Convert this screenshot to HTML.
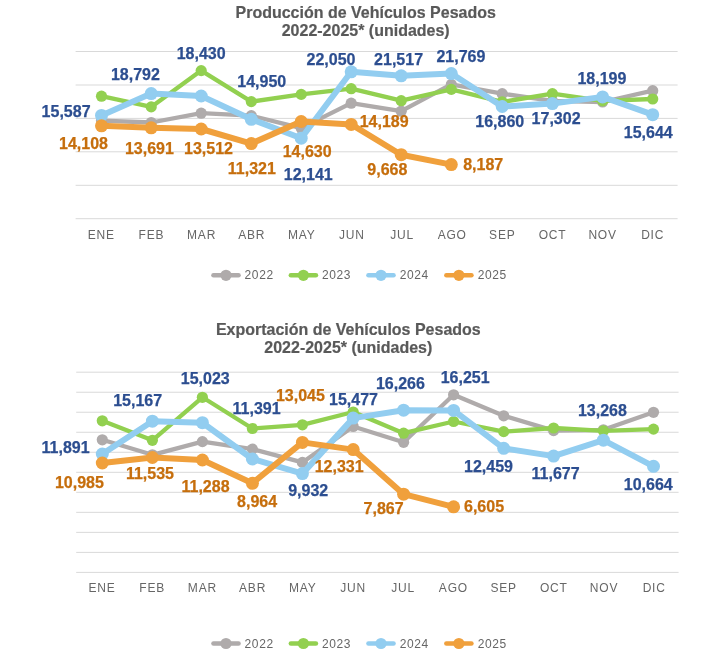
<!DOCTYPE html>
<html lang="es">
<head>
<meta charset="utf-8">
<title>Vehículos Pesados 2022-2025</title>
<style>
html,body{margin:0;padding:0;background:#fff;}
body{width:711px;height:657px;overflow:hidden;}
svg{display:block;font-family:"Liberation Sans", Arial, sans-serif;}
</style>
</head>
<body>
<svg width="711" height="657" viewBox="0 0 711 657">
<rect width="711" height="657" fill="#ffffff"/>
<g id="chart-produccion">
<line x1="75.6" y1="51.5" x2="677.6" y2="51.5" stroke="#D9D9D9" stroke-width="1"/>
<line x1="75.6" y1="85.0" x2="677.6" y2="85.0" stroke="#D9D9D9" stroke-width="1"/>
<line x1="75.6" y1="118.4" x2="677.6" y2="118.4" stroke="#D9D9D9" stroke-width="1"/>
<line x1="75.6" y1="151.8" x2="677.6" y2="151.8" stroke="#D9D9D9" stroke-width="1"/>
<line x1="75.6" y1="185.3" x2="677.6" y2="185.3" stroke="#D9D9D9" stroke-width="1"/>
<line x1="75.6" y1="218.7" x2="677.6" y2="218.7" stroke="#D9D9D9" stroke-width="1"/>
<polyline points="101.5,120.7 151.2,122.5 201.2,113.2 251.3,115.7 301.2,128.2 351.2,103.2 401.2,111.2 451.3,84.4 502.2,93.7 552.4,100.9 602.6,102.0 652.7,90.7" fill="none" stroke="#AFABAB" stroke-width="4.3" stroke-linejoin="round" stroke-linecap="round"/>
<circle cx="101.5" cy="120.7" r="5.6" fill="#AFABAB"/>
<circle cx="151.2" cy="122.5" r="5.6" fill="#AFABAB"/>
<circle cx="201.2" cy="113.2" r="5.6" fill="#AFABAB"/>
<circle cx="251.3" cy="115.7" r="5.6" fill="#AFABAB"/>
<circle cx="301.2" cy="128.2" r="5.6" fill="#AFABAB"/>
<circle cx="351.2" cy="103.2" r="5.6" fill="#AFABAB"/>
<circle cx="401.2" cy="111.2" r="5.6" fill="#AFABAB"/>
<circle cx="451.3" cy="84.4" r="5.6" fill="#AFABAB"/>
<circle cx="502.2" cy="93.7" r="5.6" fill="#AFABAB"/>
<circle cx="552.4" cy="100.9" r="5.6" fill="#AFABAB"/>
<circle cx="602.6" cy="102.0" r="5.6" fill="#AFABAB"/>
<circle cx="652.7" cy="90.7" r="5.6" fill="#AFABAB"/>
<polyline points="101.5,96.2 151.2,106.9 201.2,70.6 251.3,101.6 301.2,94.4 351.2,88.7 401.2,100.7 451.3,89.4 502.2,101.9 552.4,93.7 602.6,100.9 652.7,99.0" fill="none" stroke="#92D050" stroke-width="4.3" stroke-linejoin="round" stroke-linecap="round"/>
<circle cx="101.5" cy="96.2" r="5.6" fill="#92D050"/>
<circle cx="151.2" cy="106.9" r="5.6" fill="#92D050"/>
<circle cx="201.2" cy="70.6" r="5.6" fill="#92D050"/>
<circle cx="251.3" cy="101.6" r="5.6" fill="#92D050"/>
<circle cx="301.2" cy="94.4" r="5.6" fill="#92D050"/>
<circle cx="351.2" cy="88.7" r="5.6" fill="#92D050"/>
<circle cx="401.2" cy="100.7" r="5.6" fill="#92D050"/>
<circle cx="451.3" cy="89.4" r="5.6" fill="#92D050"/>
<circle cx="502.2" cy="101.9" r="5.6" fill="#92D050"/>
<circle cx="552.4" cy="93.7" r="5.6" fill="#92D050"/>
<circle cx="602.6" cy="100.9" r="5.6" fill="#92D050"/>
<circle cx="652.7" cy="99.0" r="5.6" fill="#92D050"/>
<polyline points="101.5,115.4 151.2,93.6 201.2,96.0 251.3,119.3 301.2,138.2 351.2,71.8 401.2,75.8 451.3,73.6 502.2,106.5 552.4,103.6 602.6,96.9 652.7,114.7" fill="none" stroke="#92CDF0" stroke-width="6" stroke-linejoin="round" stroke-linecap="round"/>
<circle cx="101.5" cy="115.4" r="6.5" fill="#92CDF0"/>
<circle cx="151.2" cy="93.6" r="6.5" fill="#92CDF0"/>
<circle cx="201.2" cy="96.0" r="6.5" fill="#92CDF0"/>
<circle cx="251.3" cy="119.3" r="6.5" fill="#92CDF0"/>
<circle cx="301.2" cy="138.2" r="6.5" fill="#92CDF0"/>
<circle cx="351.2" cy="71.8" r="6.5" fill="#92CDF0"/>
<circle cx="401.2" cy="75.8" r="6.5" fill="#92CDF0"/>
<circle cx="451.3" cy="73.6" r="6.5" fill="#92CDF0"/>
<circle cx="502.2" cy="106.5" r="6.5" fill="#92CDF0"/>
<circle cx="552.4" cy="103.6" r="6.5" fill="#92CDF0"/>
<circle cx="602.6" cy="96.9" r="6.5" fill="#92CDF0"/>
<circle cx="652.7" cy="114.7" r="6.5" fill="#92CDF0"/>
<polyline points="101.5,125.8 151.2,127.8 201.2,129.0 251.3,143.6 301.2,121.5 351.2,124.4 401.2,154.7 451.3,164.6" fill="none" stroke="#F0A03C" stroke-width="6" stroke-linejoin="round" stroke-linecap="round"/>
<circle cx="101.5" cy="125.8" r="6.5" fill="#F0A03C"/>
<circle cx="151.2" cy="127.8" r="6.5" fill="#F0A03C"/>
<circle cx="201.2" cy="129.0" r="6.5" fill="#F0A03C"/>
<circle cx="251.3" cy="143.6" r="6.5" fill="#F0A03C"/>
<circle cx="301.2" cy="121.5" r="6.5" fill="#F0A03C"/>
<circle cx="351.2" cy="124.4" r="6.5" fill="#F0A03C"/>
<circle cx="401.2" cy="154.7" r="6.5" fill="#F0A03C"/>
<circle cx="451.3" cy="164.6" r="6.5" fill="#F0A03C"/>
<text transform="translate(41.6,116.5) scale(1,1.0)" fill="#2C4E90" stroke="#2C4E90" stroke-width="0.25" font-size="16" font-weight="bold">15,587</text>
<text transform="translate(110.9,80.2) scale(1,1.0)" fill="#2C4E90" stroke="#2C4E90" stroke-width="0.25" font-size="16" font-weight="bold">18,792</text>
<text transform="translate(176.7,59.0) scale(1,1.0)" fill="#2C4E90" stroke="#2C4E90" stroke-width="0.25" font-size="16" font-weight="bold">18,430</text>
<text transform="translate(237.3,87.0) scale(1,1.0)" fill="#2C4E90" stroke="#2C4E90" stroke-width="0.25" font-size="16" font-weight="bold">14,950</text>
<text transform="translate(306.5,65.0) scale(1,1.0)" fill="#2C4E90" stroke="#2C4E90" stroke-width="0.25" font-size="16" font-weight="bold">22,050</text>
<text transform="translate(374.1,64.9) scale(1,1.0)" fill="#2C4E90" stroke="#2C4E90" stroke-width="0.25" font-size="16" font-weight="bold">21,517</text>
<text transform="translate(436.4,61.8) scale(1,1.0)" fill="#2C4E90" stroke="#2C4E90" stroke-width="0.25" font-size="16" font-weight="bold">21,769</text>
<text transform="translate(475.3,126.9) scale(1,1.0)" fill="#2C4E90" stroke="#2C4E90" stroke-width="0.25" font-size="16" font-weight="bold">16,860</text>
<text transform="translate(531.6,124.4) scale(1,1.0)" fill="#2C4E90" stroke="#2C4E90" stroke-width="0.25" font-size="16" font-weight="bold">17,302</text>
<text transform="translate(577.4,84.1) scale(1,1.0)" fill="#2C4E90" stroke="#2C4E90" stroke-width="0.25" font-size="16" font-weight="bold">18,199</text>
<text transform="translate(623.8,137.9) scale(1,1.0)" fill="#2C4E90" stroke="#2C4E90" stroke-width="0.25" font-size="16" font-weight="bold">15,644</text>
<text transform="translate(283.8,179.8) scale(1,1.0)" fill="#2C4E90" stroke="#2C4E90" stroke-width="0.25" font-size="16" font-weight="bold">12,141</text>
<text transform="translate(59.0,148.8) scale(1,1.0)" fill="#C66E0C" stroke="#C66E0C" stroke-width="0.25" font-size="16" font-weight="bold">14,108</text>
<text transform="translate(124.9,154.4) scale(1,1.0)" fill="#C66E0C" stroke="#C66E0C" stroke-width="0.25" font-size="16" font-weight="bold">13,691</text>
<text transform="translate(184.0,154.4) scale(1,1.0)" fill="#C66E0C" stroke="#C66E0C" stroke-width="0.25" font-size="16" font-weight="bold">13,512</text>
<text transform="translate(227.8,174.1) scale(1,1.0)" fill="#C66E0C" stroke="#C66E0C" stroke-width="0.25" font-size="16" font-weight="bold">11,321</text>
<text transform="translate(282.7,156.8) scale(1,1.0)" fill="#C66E0C" stroke="#C66E0C" stroke-width="0.25" font-size="16" font-weight="bold">14,630</text>
<text transform="translate(359.7,127.1) scale(1,1.0)" fill="#C66E0C" stroke="#C66E0C" stroke-width="0.25" font-size="16" font-weight="bold">14,189</text>
<text transform="translate(367.3,175.4) scale(1,1.0)" fill="#C66E0C" stroke="#C66E0C" stroke-width="0.25" font-size="16" font-weight="bold">9,668</text>
<text transform="translate(463.2,169.9) scale(1,1.0)" fill="#C66E0C" stroke="#C66E0C" stroke-width="0.25" font-size="16" font-weight="bold">8,187</text>
<text x="101.3" y="238.9" fill="#666666" font-size="12" letter-spacing="0.8" text-anchor="middle">ENE</text>
<text x="151.4" y="238.9" fill="#666666" font-size="12" letter-spacing="0.8" text-anchor="middle">FEB</text>
<text x="201.6" y="238.9" fill="#666666" font-size="12" letter-spacing="0.8" text-anchor="middle">MAR</text>
<text x="251.7" y="238.9" fill="#666666" font-size="12" letter-spacing="0.8" text-anchor="middle">ABR</text>
<text x="301.8" y="238.9" fill="#666666" font-size="12" letter-spacing="0.8" text-anchor="middle">MAY</text>
<text x="351.9" y="238.9" fill="#666666" font-size="12" letter-spacing="0.8" text-anchor="middle">JUN</text>
<text x="402.1" y="238.9" fill="#666666" font-size="12" letter-spacing="0.8" text-anchor="middle">JUL</text>
<text x="452.2" y="238.9" fill="#666666" font-size="12" letter-spacing="0.8" text-anchor="middle">AGO</text>
<text x="502.3" y="238.9" fill="#666666" font-size="12" letter-spacing="0.8" text-anchor="middle">SEP</text>
<text x="552.5" y="238.9" fill="#666666" font-size="12" letter-spacing="0.8" text-anchor="middle">OCT</text>
<text x="602.6" y="238.9" fill="#666666" font-size="12" letter-spacing="0.8" text-anchor="middle">NOV</text>
<text x="652.7" y="238.9" fill="#666666" font-size="12" letter-spacing="0.8" text-anchor="middle">DIC</text>
<text transform="translate(365.7,17.5) scale(1,1.04)" fill="#595959" stroke="#595959" stroke-width="0.2" font-size="16" font-weight="bold" text-anchor="middle">Producción de Vehículos Pesados</text>
<text transform="translate(365.7,35.8) scale(1,1.04)" fill="#595959" stroke="#595959" stroke-width="0.2" font-size="16" font-weight="bold" text-anchor="middle">2022-2025* (unidades)</text>
<line x1="213.5" y1="275.3" x2="238.5" y2="275.3" stroke="#AFABAB" stroke-width="4.6" stroke-linecap="round"/>
<circle cx="226" cy="275.3" r="5.6" fill="#AFABAB"/>
<text x="244.6" y="279.3" fill="#666666" font-size="12" letter-spacing="0.6">2022</text>
<line x1="290.9" y1="275.3" x2="315.9" y2="275.3" stroke="#92D050" stroke-width="4.6" stroke-linecap="round"/>
<circle cx="303.4" cy="275.3" r="5.6" fill="#92D050"/>
<text x="322" y="279.3" fill="#666666" font-size="12" letter-spacing="0.6">2023</text>
<line x1="368.5" y1="275.3" x2="393.5" y2="275.3" stroke="#92CDF0" stroke-width="4.6" stroke-linecap="round"/>
<circle cx="381" cy="275.3" r="5.6" fill="#92CDF0"/>
<text x="399.8" y="279.3" fill="#666666" font-size="12" letter-spacing="0.6">2024</text>
<line x1="446.4" y1="275.3" x2="471.4" y2="275.3" stroke="#F0A03C" stroke-width="4.6" stroke-linecap="round"/>
<circle cx="458.9" cy="275.3" r="5.6" fill="#F0A03C"/>
<text x="477.7" y="279.3" fill="#666666" font-size="12" letter-spacing="0.6">2025</text>
</g>
<g id="chart-exportacion">
<line x1="76.2" y1="372.2" x2="678.6" y2="372.2" stroke="#D9D9D9" stroke-width="1"/>
<line x1="76.2" y1="392.21999999999997" x2="678.6" y2="392.21999999999997" stroke="#D9D9D9" stroke-width="1"/>
<line x1="76.2" y1="412.24" x2="678.6" y2="412.24" stroke="#D9D9D9" stroke-width="1"/>
<line x1="76.2" y1="432.26" x2="678.6" y2="432.26" stroke="#D9D9D9" stroke-width="1"/>
<line x1="76.2" y1="452.28" x2="678.6" y2="452.28" stroke="#D9D9D9" stroke-width="1"/>
<line x1="76.2" y1="472.29999999999995" x2="678.6" y2="472.29999999999995" stroke="#D9D9D9" stroke-width="1"/>
<line x1="76.2" y1="492.32" x2="678.6" y2="492.32" stroke="#D9D9D9" stroke-width="1"/>
<line x1="76.2" y1="512.3399999999999" x2="678.6" y2="512.3399999999999" stroke="#D9D9D9" stroke-width="1"/>
<line x1="76.2" y1="532.36" x2="678.6" y2="532.36" stroke="#D9D9D9" stroke-width="1"/>
<line x1="76.2" y1="552.38" x2="678.6" y2="552.38" stroke="#D9D9D9" stroke-width="1"/>
<line x1="76.2" y1="572.4" x2="678.6" y2="572.4" stroke="#D9D9D9" stroke-width="1"/>
<polyline points="102.3,439.8 152.4,454.8 202.4,441.6 252.4,449.1 302.4,462.4 353.2,426.5 403.6,442.3 453.6,394.8 503.7,415.8 553.6,430.6 603.4,429.8 653.5,412.3" fill="none" stroke="#AFABAB" stroke-width="4.3" stroke-linejoin="round" stroke-linecap="round"/>
<circle cx="102.3" cy="439.8" r="5.6" fill="#AFABAB"/>
<circle cx="152.4" cy="454.8" r="5.6" fill="#AFABAB"/>
<circle cx="202.4" cy="441.6" r="5.6" fill="#AFABAB"/>
<circle cx="252.4" cy="449.1" r="5.6" fill="#AFABAB"/>
<circle cx="302.4" cy="462.4" r="5.6" fill="#AFABAB"/>
<circle cx="353.2" cy="426.5" r="5.6" fill="#AFABAB"/>
<circle cx="403.6" cy="442.3" r="5.6" fill="#AFABAB"/>
<circle cx="453.6" cy="394.8" r="5.6" fill="#AFABAB"/>
<circle cx="503.7" cy="415.8" r="5.6" fill="#AFABAB"/>
<circle cx="553.6" cy="430.6" r="5.6" fill="#AFABAB"/>
<circle cx="603.4" cy="429.8" r="5.6" fill="#AFABAB"/>
<circle cx="653.5" cy="412.3" r="5.6" fill="#AFABAB"/>
<polyline points="102.3,420.8 152.4,440.3 202.4,397.3 252.4,428.5 302.4,424.8 353.2,412.0 403.6,433.2 453.6,421.5 503.7,431.6 553.6,428.0 603.4,430.8 653.5,429.1" fill="none" stroke="#92D050" stroke-width="4.3" stroke-linejoin="round" stroke-linecap="round"/>
<circle cx="102.3" cy="420.8" r="5.6" fill="#92D050"/>
<circle cx="152.4" cy="440.3" r="5.6" fill="#92D050"/>
<circle cx="202.4" cy="397.3" r="5.6" fill="#92D050"/>
<circle cx="252.4" cy="428.5" r="5.6" fill="#92D050"/>
<circle cx="302.4" cy="424.8" r="5.6" fill="#92D050"/>
<circle cx="353.2" cy="412.0" r="5.6" fill="#92D050"/>
<circle cx="403.6" cy="433.2" r="5.6" fill="#92D050"/>
<circle cx="453.6" cy="421.5" r="5.6" fill="#92D050"/>
<circle cx="503.7" cy="431.6" r="5.6" fill="#92D050"/>
<circle cx="553.6" cy="428.0" r="5.6" fill="#92D050"/>
<circle cx="603.4" cy="430.8" r="5.6" fill="#92D050"/>
<circle cx="653.5" cy="429.1" r="5.6" fill="#92D050"/>
<polyline points="102.3,454.0 152.4,421.2 202.4,422.7 252.4,459.0 302.4,473.6 353.2,418.1 403.6,410.2 453.6,410.4 503.7,448.3 553.6,456.1 603.4,440.2 653.5,466.3" fill="none" stroke="#92CDF0" stroke-width="6" stroke-linejoin="round" stroke-linecap="round"/>
<circle cx="102.3" cy="454.0" r="6.5" fill="#92CDF0"/>
<circle cx="152.4" cy="421.2" r="6.5" fill="#92CDF0"/>
<circle cx="202.4" cy="422.7" r="6.5" fill="#92CDF0"/>
<circle cx="252.4" cy="459.0" r="6.5" fill="#92CDF0"/>
<circle cx="302.4" cy="473.6" r="6.5" fill="#92CDF0"/>
<circle cx="353.2" cy="418.1" r="6.5" fill="#92CDF0"/>
<circle cx="403.6" cy="410.2" r="6.5" fill="#92CDF0"/>
<circle cx="453.6" cy="410.4" r="6.5" fill="#92CDF0"/>
<circle cx="503.7" cy="448.3" r="6.5" fill="#92CDF0"/>
<circle cx="553.6" cy="456.1" r="6.5" fill="#92CDF0"/>
<circle cx="603.4" cy="440.2" r="6.5" fill="#92CDF0"/>
<circle cx="653.5" cy="466.3" r="6.5" fill="#92CDF0"/>
<polyline points="102.3,463.0 152.4,457.5 202.4,460.0 252.4,483.3 302.4,442.4 353.2,449.6 403.6,494.2 453.6,506.8" fill="none" stroke="#F0A03C" stroke-width="6" stroke-linejoin="round" stroke-linecap="round"/>
<circle cx="102.3" cy="463.0" r="6.5" fill="#F0A03C"/>
<circle cx="152.4" cy="457.5" r="6.5" fill="#F0A03C"/>
<circle cx="202.4" cy="460.0" r="6.5" fill="#F0A03C"/>
<circle cx="252.4" cy="483.3" r="6.5" fill="#F0A03C"/>
<circle cx="302.4" cy="442.4" r="6.5" fill="#F0A03C"/>
<circle cx="353.2" cy="449.6" r="6.5" fill="#F0A03C"/>
<circle cx="403.6" cy="494.2" r="6.5" fill="#F0A03C"/>
<circle cx="453.6" cy="506.8" r="6.5" fill="#F0A03C"/>
<text transform="translate(41.6,453.0) scale(1,1.0)" fill="#2C4E90" stroke="#2C4E90" stroke-width="0.25" font-size="16" font-weight="bold">11,891</text>
<text transform="translate(113.2,405.9) scale(1,1.0)" fill="#2C4E90" stroke="#2C4E90" stroke-width="0.25" font-size="16" font-weight="bold">15,167</text>
<text transform="translate(180.8,384.1) scale(1,1.0)" fill="#2C4E90" stroke="#2C4E90" stroke-width="0.25" font-size="16" font-weight="bold">15,023</text>
<text transform="translate(232.6,414.1) scale(1,1.0)" fill="#2C4E90" stroke="#2C4E90" stroke-width="0.25" font-size="16" font-weight="bold">11,391</text>
<text transform="translate(329.0,405.4) scale(1,1.0)" fill="#2C4E90" stroke="#2C4E90" stroke-width="0.25" font-size="16" font-weight="bold">15,477</text>
<text transform="translate(375.9,388.6) scale(1,1.0)" fill="#2C4E90" stroke="#2C4E90" stroke-width="0.25" font-size="16" font-weight="bold">16,266</text>
<text transform="translate(440.7,382.8) scale(1,1.0)" fill="#2C4E90" stroke="#2C4E90" stroke-width="0.25" font-size="16" font-weight="bold">16,251</text>
<text transform="translate(464.0,471.7) scale(1,1.0)" fill="#2C4E90" stroke="#2C4E90" stroke-width="0.25" font-size="16" font-weight="bold">12,459</text>
<text transform="translate(531.6,479.2) scale(1,1.0)" fill="#2C4E90" stroke="#2C4E90" stroke-width="0.25" font-size="16" font-weight="bold">11,677</text>
<text transform="translate(577.9,416.0) scale(1,1.0)" fill="#2C4E90" stroke="#2C4E90" stroke-width="0.25" font-size="16" font-weight="bold">13,268</text>
<text transform="translate(623.8,489.7) scale(1,1.0)" fill="#2C4E90" stroke="#2C4E90" stroke-width="0.25" font-size="16" font-weight="bold">10,664</text>
<text transform="translate(288.2,495.5) scale(1,1.0)" fill="#2C4E90" stroke="#2C4E90" stroke-width="0.25" font-size="16" font-weight="bold">9,932</text>
<text transform="translate(54.9,487.5) scale(1,1.0)" fill="#C66E0C" stroke="#C66E0C" stroke-width="0.25" font-size="16" font-weight="bold">10,985</text>
<text transform="translate(125.9,478.5) scale(1,1.0)" fill="#C66E0C" stroke="#C66E0C" stroke-width="0.25" font-size="16" font-weight="bold">11,535</text>
<text transform="translate(181.5,491.7) scale(1,1.0)" fill="#C66E0C" stroke="#C66E0C" stroke-width="0.25" font-size="16" font-weight="bold">11,288</text>
<text transform="translate(237.1,506.8) scale(1,1.0)" fill="#C66E0C" stroke="#C66E0C" stroke-width="0.25" font-size="16" font-weight="bold">8,964</text>
<text transform="translate(275.9,401.1) scale(1,1.0)" fill="#C66E0C" stroke="#C66E0C" stroke-width="0.25" font-size="16" font-weight="bold">13,045</text>
<text transform="translate(314.7,471.7) scale(1,1.0)" fill="#C66E0C" stroke="#C66E0C" stroke-width="0.25" font-size="16" font-weight="bold">12,331</text>
<text transform="translate(363.6,514.3) scale(1,1.0)" fill="#C66E0C" stroke="#C66E0C" stroke-width="0.25" font-size="16" font-weight="bold">7,867</text>
<text transform="translate(464.0,511.8) scale(1,1.0)" fill="#C66E0C" stroke="#C66E0C" stroke-width="0.25" font-size="16" font-weight="bold">6,605</text>
<text x="102.0" y="591.8" fill="#666666" font-size="12" letter-spacing="0.8" text-anchor="middle">ENE</text>
<text x="152.2" y="591.8" fill="#666666" font-size="12" letter-spacing="0.8" text-anchor="middle">FEB</text>
<text x="202.4" y="591.8" fill="#666666" font-size="12" letter-spacing="0.8" text-anchor="middle">MAR</text>
<text x="252.6" y="591.8" fill="#666666" font-size="12" letter-spacing="0.8" text-anchor="middle">ABR</text>
<text x="302.8" y="591.8" fill="#666666" font-size="12" letter-spacing="0.8" text-anchor="middle">MAY</text>
<text x="353.0" y="591.8" fill="#666666" font-size="12" letter-spacing="0.8" text-anchor="middle">JUN</text>
<text x="403.2" y="591.8" fill="#666666" font-size="12" letter-spacing="0.8" text-anchor="middle">JUL</text>
<text x="453.4" y="591.8" fill="#666666" font-size="12" letter-spacing="0.8" text-anchor="middle">AGO</text>
<text x="503.6" y="591.8" fill="#666666" font-size="12" letter-spacing="0.8" text-anchor="middle">SEP</text>
<text x="553.8" y="591.8" fill="#666666" font-size="12" letter-spacing="0.8" text-anchor="middle">OCT</text>
<text x="604.0" y="591.8" fill="#666666" font-size="12" letter-spacing="0.8" text-anchor="middle">NOV</text>
<text x="654.2" y="591.8" fill="#666666" font-size="12" letter-spacing="0.8" text-anchor="middle">DIC</text>
<text transform="translate(348.3,335.2) scale(1,1.04)" fill="#595959" stroke="#595959" stroke-width="0.2" font-size="16" font-weight="bold" text-anchor="middle">Exportación de Vehículos Pesados</text>
<text transform="translate(348.3,353.2) scale(1,1.04)" fill="#595959" stroke="#595959" stroke-width="0.2" font-size="16" font-weight="bold" text-anchor="middle">2022-2025* (unidades)</text>
<line x1="213.5" y1="643.5" x2="238.5" y2="643.5" stroke="#AFABAB" stroke-width="4.6" stroke-linecap="round"/>
<circle cx="226" cy="643.5" r="5.6" fill="#AFABAB"/>
<text x="244.6" y="647.5" fill="#666666" font-size="12" letter-spacing="0.6">2022</text>
<line x1="290.9" y1="643.5" x2="315.9" y2="643.5" stroke="#92D050" stroke-width="4.6" stroke-linecap="round"/>
<circle cx="303.4" cy="643.5" r="5.6" fill="#92D050"/>
<text x="322" y="647.5" fill="#666666" font-size="12" letter-spacing="0.6">2023</text>
<line x1="368.5" y1="643.5" x2="393.5" y2="643.5" stroke="#92CDF0" stroke-width="4.6" stroke-linecap="round"/>
<circle cx="381" cy="643.5" r="5.6" fill="#92CDF0"/>
<text x="399.8" y="647.5" fill="#666666" font-size="12" letter-spacing="0.6">2024</text>
<line x1="446.4" y1="643.5" x2="471.4" y2="643.5" stroke="#F0A03C" stroke-width="4.6" stroke-linecap="round"/>
<circle cx="458.9" cy="643.5" r="5.6" fill="#F0A03C"/>
<text x="477.7" y="647.5" fill="#666666" font-size="12" letter-spacing="0.6">2025</text>
</g>
</svg>
</body>
</html>
